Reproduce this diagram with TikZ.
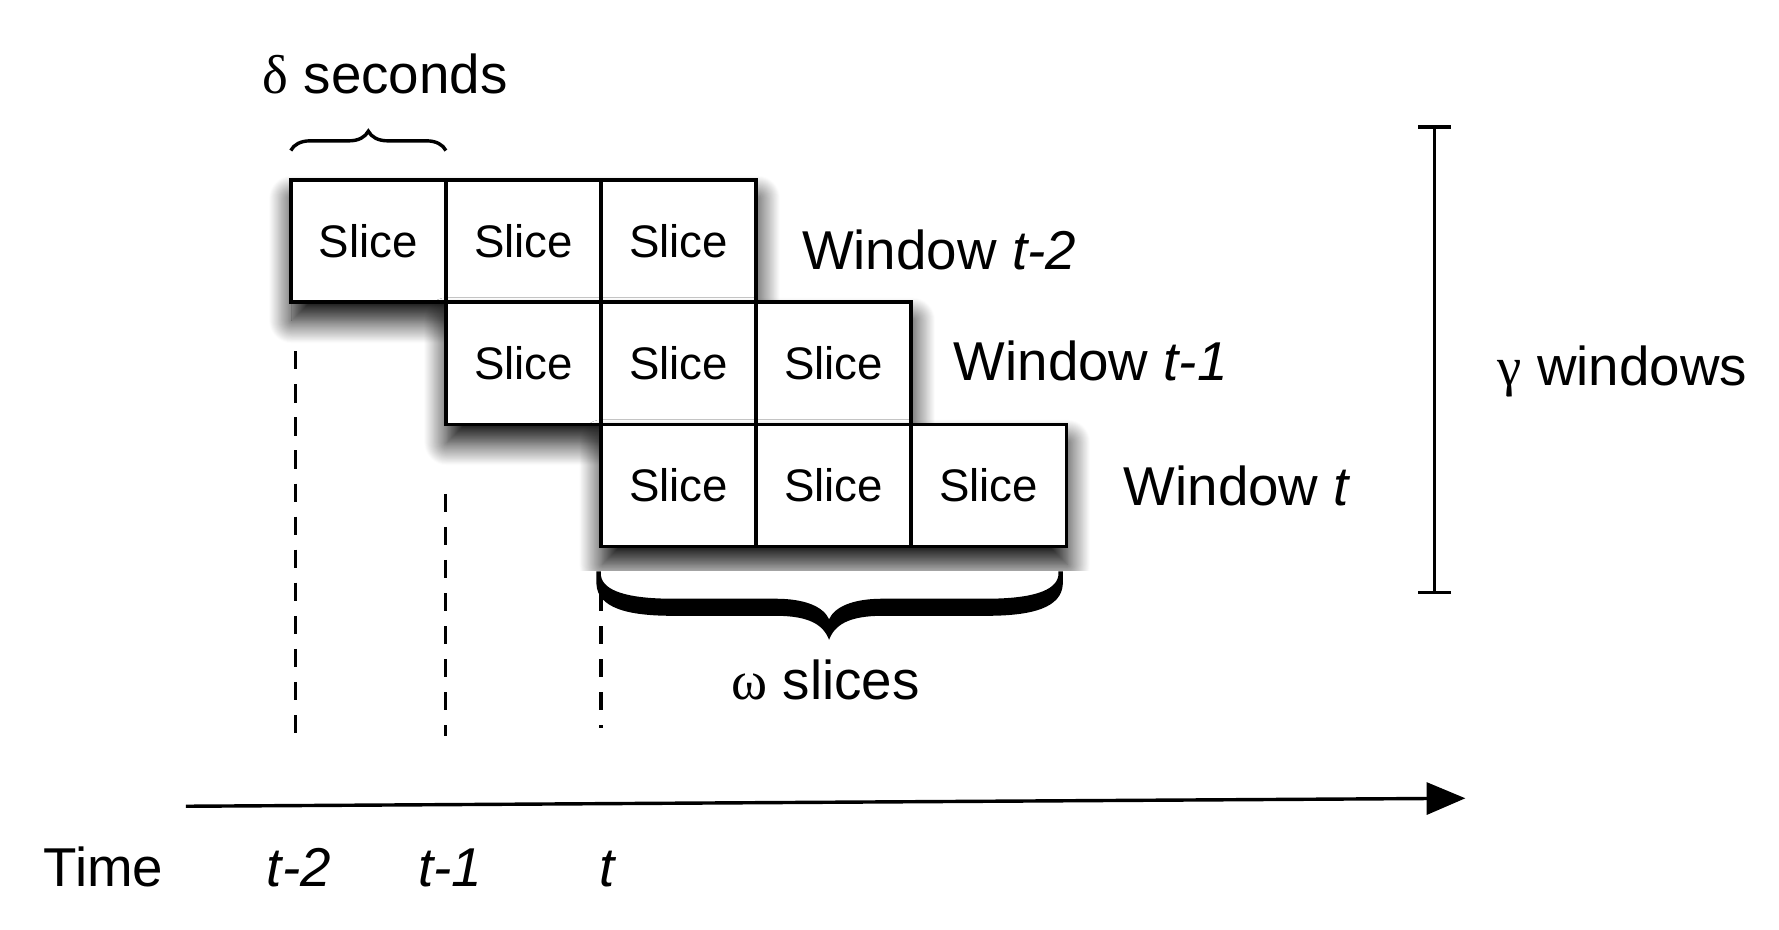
\documentclass[tikz,border=0pt]{standalone}
\usepackage{fontspec}
\setmainfont{Liberation Sans}
\newfontfamily\grk{Liberation Serif}
\usetikzlibrary{positioning, arrows.meta, decorations.pathreplacing, shadows.blur}

\tikzset{
  slice/.style={draw, line width=1.5pt, minimum width=68pt, minimum height=53.5pt,
    inner sep=0pt, outer sep=0pt, font=\fontsize{20}{24}\selectfont},
  window/.style={draw, fill=white, line width=1.5pt, minimum width=204pt, minimum height=53.5pt,
    inner sep=0pt, outer sep=0pt,
    blur shadow={shadow xshift=0.5pt, shadow yshift=-8pt, shadow blur radius=10pt,
      shadow blur steps=25, shadow opacity=100}},
  lbl/.style={font=\fontsize{24}{28}\selectfont, inner sep=0pt},
  tick/.style={line width=1.4pt, dash pattern=on 8pt off 6.5pt},
}

\begin{document}
\begin{tikzpicture}[x=0.5pt, y=-0.5pt]
\useasboundingbox (0,0) rectangle (1560,815);

% window t-2
\node[window] (w2) at (459,211.5) {};
\node[slice, anchor=west] (s2a) at (w2.west) {Slice};
\node[slice, right=0pt of s2a] (s2b) {Slice};
\node[slice, right=0pt of s2b] (s2c) {Slice};

% window t-1
\node[window, below=0pt of w2, xshift=68pt] (w1) {};
\node[slice, anchor=west] (s1a) at (w1.west) {Slice};
\node[slice, right=0pt of s1a] (s1b) {Slice};
\node[slice, right=0pt of s1b] (s1c) {Slice};

% window t
\node[window, below=0pt of w1, xshift=68pt] (w0) {};
\node[slice, anchor=west] (s0a) at (w0.west) {Slice};
\node[slice, right=0pt of s0a] (s0b) {Slice};
\node[slice, right=0pt of s0b] (s0c) {Slice};

\node[lbl, anchor=base west] (l2) at (703,236) {Window \textit{t-2}};
\node[lbl, anchor=base west] (l1) at (836,334) {Window \textit{t-1}};
\node[lbl, anchor=base west] (l0) at (985,443) {Window \textit{t}};

% delta brace
\draw[line width=1.5pt, decorate, decoration={brace, amplitude=8.5pt}]
  ([yshift=13pt]s2a.north west) -- ([yshift=13pt]s2a.north east);
\node[lbl, anchor=base west] (dl) at (230,82) {{\grk δ} seconds};

% omega brace
\fill[white] (500,501) rectangle (990,520);
\fill (523,501) -- (523,512) .. controls (524,533) and (550,540) .. (590,540)
  -- (680,540) .. controls (710,540) and (722,548) .. (727,561)
  .. controls (732,548) and (744,540) .. (774,540) -- (865,540)
  .. controls (905,540) and (931,533) .. (932,512) -- (932,501) -- (928,501)
  -- (928,505) .. controls (926,518) and (905,525) .. (865,525) -- (774,525)
  .. controls (748,525) and (732,532) .. (727,543)
  .. controls (722,532) and (706,525) .. (680,525) -- (590,525)
  .. controls (550,525) and (529,518) .. (527,505) -- (527,501) -- cycle;
\node[lbl, anchor=base west] (ol) at (641,613) {{\grk ω} slices};

% gamma bar
\coordinate (gt) at (1258,110);
\coordinate (gb) at (1258,521);
\draw[line width=1.5pt, {Bar[width=14.5pt]}-{Bar[width=14.5pt]}] (gt) -- (gb);
\node[lbl, anchor=base west] (gl) at (1313,338) {{\grk γ} windows};

% time marks
\coordinate (d2t) at (259,308); \coordinate (d2b) at (259,645);
\coordinate (d1t) at (391,433); \coordinate (d1b) at (391,645);
\coordinate (d0t) at (527,520); \coordinate (d0b) at (527,638);
\draw[tick] (d2t) -- (d2b);
\draw[tick] (d1t) -- (d1b);
\draw[tick] (d0t) -- (d0b);

% time axis
\coordinate (a0) at (163,707);
\coordinate (a1) at (1285,700);
\draw[line width=1.5pt, -{Triangle[length=17pt, width=14pt]}] (a0) -- (a1);

\node[lbl, anchor=base west] (tl) at (38,777) {Time};
\node[lbl, anchor=base] (t2) at (262,777) {\textit{t-2}};
\node[lbl, anchor=base] (t1) at (395,777) {\textit{t-1}};
\node[lbl, anchor=base] (t0) at (533,777) {\textit{t}};
\end{tikzpicture}
\end{document}
